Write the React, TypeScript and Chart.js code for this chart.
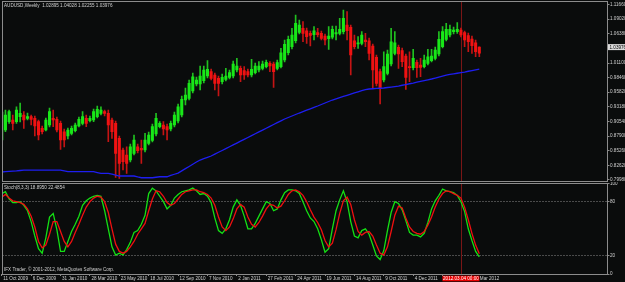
import React, { useEffect, useRef } from "react";
import { Chart, registerables } from "chart.js";
Chart.register(...registerables);

// ---- weekly AUDUSD candles ----
const opens = [
  0.8718, 0.8899, 0.9049, 0.9080, 0.9049, 0.9140, 0.9170, 0.9110, 0.9140, 0.9110,
  0.9049, 0.8929, 0.8899, 0.8989, 0.9110, 0.9092, 0.9020, 0.8868, 0.8790, 0.8839,
  0.8887, 0.8971, 0.9020, 0.9110, 0.9067, 0.9080, 0.9140, 0.9200, 0.9230, 0.9200,
  0.9080, 0.9020, 0.8749, 0.8537, 0.8447, 0.8357, 0.8477, 0.8597, 0.8567, 0.8537,
  0.8658, 0.8712, 0.8826, 0.8959, 0.8989, 0.8959, 0.8917, 0.8989, 0.9061, 0.9170,
  0.9441, 0.9472, 0.9604, 0.9730, 0.9730, 0.9789, 0.9875, 0.9953, 0.9893, 0.9833,
  0.9772, 0.9815, 0.9851, 0.9875, 0.9984, 1.0014, 0.9971, 0.9953, 0.9893, 0.9935,
  0.9984, 1.0014, 1.0044, 1.0104, 1.0092, 1.0014, 1.0044, 1.0165, 1.0296, 1.0405,
  1.0513, 1.0665, 1.0737, 1.0694, 1.0647, 1.0622, 1.0658, 1.0647, 1.0598, 1.0549,
  1.0575, 1.0634, 1.0647, 1.0676, 1.0797, 1.0755, 1.0513, 1.0454, 1.0466, 1.0526,
  1.0513, 1.0417, 1.0213, 0.9953, 0.9803, 0.9924, 1.0092, 1.0285, 1.0394, 1.0333,
  1.0236, 1.0044, 1.0026, 1.0122, 1.0074, 1.0044, 1.0104, 1.0152, 1.0195, 1.0273,
  1.0405, 1.0538, 1.0617, 1.0676, 1.0676, 1.0707, 1.0658, 1.0604, 1.0544, 1.0477,
  1.0398,
];
const highs = [
  0.9260, 0.9261, 0.9260, 0.9170, 0.9320, 0.9387, 0.9230, 0.9206, 0.9170, 0.9152,
  0.9080, 0.8971, 0.9116, 0.9296, 0.9261, 0.9134, 0.9061, 0.8917, 0.8935, 0.8971,
  0.9025, 0.9134, 0.9230, 0.9170, 0.9152, 0.9278, 0.9333, 0.9320, 0.9261, 0.9261,
  0.9116, 0.9061, 0.8790, 0.8573, 0.8597, 0.8645, 0.8809, 0.8645, 0.8718, 0.8839,
  0.8863, 0.9007, 0.9200, 0.9049, 0.9049, 0.9007, 0.9061, 0.9224, 0.9369, 0.9513,
  0.9658, 0.9803, 0.9929, 0.9857, 1.0056, 1.0056, 1.0155, 1.0002, 0.9929, 0.9875,
  0.9911, 1.0014, 0.9984, 1.0146, 1.0195, 1.0056, 1.0044, 1.0002, 1.0177, 1.0110,
  1.0134, 1.0146, 1.0165, 1.0134, 1.0128, 1.0165, 1.0376, 1.0526, 1.0598, 1.0737,
  1.0978, 1.0888, 1.0857, 1.0743, 1.0689, 1.0767, 1.0737, 1.0689, 1.0634, 1.0767,
  1.0779, 1.0779, 1.0918, 1.1068, 1.1038, 1.0797, 1.0617, 1.0586, 1.0676, 1.0647,
  1.0562, 1.0454, 1.0255, 1.0002, 1.0314, 1.0345, 1.0737, 1.0676, 1.0436, 1.0381,
  1.0273, 1.0314, 1.0358, 1.0165, 1.0195, 1.0255, 1.0358, 1.0358, 1.0399, 1.0676,
  1.0767, 1.0828, 1.0797, 1.0761, 1.0839, 1.0743, 1.0689, 1.0652, 1.0598, 1.0526,
  1.0403,
];
const lows = [
  0.8682, 0.8868, 0.9020, 0.8899, 0.9020, 0.9043, 0.8929, 0.9080, 0.8989, 0.8790,
  0.8718, 0.8827, 0.8881, 0.8953, 0.8959, 0.8863, 0.8550, 0.8591, 0.8736, 0.8809,
  0.8863, 0.8953, 0.8989, 0.8959, 0.9043, 0.9049, 0.9116, 0.9170, 0.9152, 0.8687,
  0.8749, 0.8043, 0.8025, 0.8176, 0.8116, 0.8320, 0.8447, 0.8483, 0.8297, 0.8501,
  0.8628, 0.8682, 0.8790, 0.8935, 0.8809, 0.8718, 0.8881, 0.8953, 0.9025, 0.9134,
  0.9351, 0.9441, 0.9568, 0.9694, 0.9622, 0.9749, 0.9839, 0.9803, 0.9622, 0.9513,
  0.9730, 0.9785, 0.9821, 0.9839, 0.9947, 0.9772, 0.9815, 0.9857, 0.9857, 0.9911,
  0.9947, 0.9984, 1.0020, 0.9953, 0.9670, 0.9984, 1.0020, 1.0128, 1.0255, 1.0363,
  1.0472, 1.0634, 1.0495, 1.0466, 1.0417, 1.0526, 1.0580, 1.0526, 1.0436, 1.0358,
  1.0544, 1.0526, 1.0617, 1.0634, 1.0526, 0.9893, 1.0363, 1.0376, 1.0436, 1.0405,
  1.0165, 0.9652, 0.9694, 0.9369, 0.9767, 0.9893, 1.0056, 1.0255, 1.0014, 1.0044,
  0.9634, 0.9772, 0.9984, 0.9851, 0.9863, 1.0020, 1.0074, 1.0128, 1.0165, 1.0237,
  1.0381, 1.0508, 1.0580, 1.0634, 1.0647, 1.0580, 1.0405, 1.0314, 1.0285, 1.0224,
  1.0226,
];
const closes = [
  0.9224, 0.9170, 0.9230, 0.9020, 0.9261, 0.9200, 0.9080, 0.9140, 0.9092, 0.8971,
  0.8809, 0.8868, 0.9080, 0.9230, 0.9080, 0.8899, 0.8718, 0.8718, 0.8899, 0.8929,
  0.8989, 0.9092, 0.9140, 0.9020, 0.9110, 0.9230, 0.9273, 0.9261, 0.9200, 0.8989,
  0.8868, 0.8477, 0.8297, 0.8326, 0.8297, 0.8597, 0.8718, 0.8525, 0.8537, 0.8718,
  0.8809, 0.8959, 0.9110, 0.9020, 0.8917, 0.8899, 0.9020, 0.9170, 0.9320, 0.9454,
  0.9532, 0.9743, 0.9862, 0.9803, 0.9875, 0.9984, 0.9996, 0.9833, 0.9743, 0.9743,
  0.9851, 0.9875, 0.9935, 1.0092, 1.0056, 0.9893, 0.9893, 0.9893, 0.9996, 1.0056,
  1.0056, 1.0092, 1.0122, 1.0056, 0.9953, 1.0116, 1.0296, 1.0448, 1.0538, 1.0617,
  1.0828, 1.0797, 1.0647, 1.0586, 1.0611, 1.0694, 1.0622, 1.0556, 1.0526, 1.0598,
  1.0719, 1.0658, 1.0719, 1.0918, 1.0694, 1.0255, 1.0405, 1.0477, 1.0617, 1.0495,
  1.0285, 0.9984, 0.9743, 0.9652, 1.0044, 1.0273, 1.0495, 1.0477, 1.0273, 1.0134,
  0.9851, 1.0026, 1.0195, 1.0026, 1.0032, 1.0165, 1.0224, 1.0236, 1.0345, 1.0538,
  1.0676, 1.0719, 1.0719, 1.0707, 1.0719, 1.0617, 1.0526, 1.0495, 1.0423, 1.0314,
  1.0290,
];
// ---- blue moving average ----
const maValues = [
  0.8139, 0.8145, 0.8150, 0.8155, 0.8160, 0.8167, 0.8175, 0.8175, 0.8175, 0.8175,
  0.8175, 0.8175, 0.8175, 0.8175, 0.8175, 0.8175, 0.8175, 0.8160, 0.8145, 0.8145,
  0.8145, 0.8145, 0.8145, 0.8145, 0.8145, 0.8145, 0.8130, 0.8116, 0.8116, 0.8116,
  0.8100, 0.8083, 0.8067, 0.8067, 0.8067, 0.8067, 0.8067, 0.8050, 0.8036, 0.8036,
  0.8036, 0.8036, 0.8045, 0.8054, 0.8054, 0.8054, 0.8077, 0.8099, 0.8121, 0.8160,
  0.8200, 0.8240, 0.8280, 0.8320, 0.8356, 0.8380, 0.8405, 0.8429, 0.8462, 0.8496,
  0.8529, 0.8563, 0.8596, 0.8630, 0.8663, 0.8697, 0.8730, 0.8764, 0.8797, 0.8831,
  0.8864, 0.8898, 0.8931, 0.8965, 0.8998, 0.9032, 0.9065, 0.9098, 0.9125, 0.9152,
  0.9179, 0.9206, 0.9231, 0.9257, 0.9282, 0.9308, 0.9333, 0.9360, 0.9387, 0.9414,
  0.9441, 0.9463, 0.9484, 0.9506, 0.9527, 0.9549, 0.9569, 0.9590, 0.9610, 0.9630,
  0.9640, 0.9645, 0.9650, 0.9654, 0.9658, 0.9667, 0.9676, 0.9685, 0.9694, 0.9708,
  0.9721, 0.9735, 0.9748, 0.9763, 0.9777, 0.9792, 0.9806, 0.9821, 0.9839, 0.9857,
  0.9875, 0.9893, 0.9904, 0.9915, 0.9925, 0.9936, 0.9947, 0.9961, 0.9974, 0.9988,
  1.0001,
];
// ---- Stochastic (8,3,3) ----
const stochMain = [
  89, 91, 83, 79, 79, 80, 76, 70, 58, 42, 28, 23, 40, 63, 67, 49, 25, 25, 36, 47,
  55, 64, 76, 81, 84, 86, 87, 86, 70, 50, 30, 21, 23, 21, 27, 35, 46, 48, 55, 65,
  89, 95, 92, 86, 80, 72, 76, 84, 88, 91, 92, 93, 95, 92, 88, 89, 86,
  79, 62, 48, 45, 50, 60, 74, 82, 76, 64, 50, 50, 56, 64, 72, 80, 78, 70, 72, 82,
  90, 93, 93, 92, 89, 80, 70, 62, 58, 50, 38, 24, 28, 50, 70, 82, 92, 80, 58, 42,
  40, 48, 50, 44, 32, 20, 16, 26, 48, 68, 80, 78,
  71, 59, 46, 43, 43, 41, 45, 57, 72, 81, 87, 94, 92, 91, 90, 87, 80, 69, 50, 37,
  25, 18.895,
];
const stochSignal = [
  85, 88, 84, 81, 80, 79, 77, 72, 64, 52, 36, 29, 32, 44, 58, 58, 47, 36, 30, 36,
  46, 55, 65, 74, 80, 84, 86, 85, 80, 68, 50, 33, 25, 23, 25, 30, 36, 44, 50, 56,
  70, 83, 92, 91, 86, 79, 76, 78, 83, 88, 91, 92, 93, 93, 91, 90, 88,
  84, 76, 63, 52, 48, 52, 61, 72, 77, 74, 63, 55, 52, 57, 64, 72, 77, 76, 73, 75,
  81, 88, 92, 93, 91, 87, 80, 71, 63, 57, 49, 37, 30, 34, 49, 67, 81, 85, 77, 60,
  47, 43, 46, 47, 42, 32, 23, 21, 30, 47, 65, 75,
  73, 62, 52, 47, 45, 44, 47, 54, 63, 74, 83, 89, 92, 91, 89, 87, 84, 74, 60, 45,
  32, 22.4854,
];
// ---- axis labels ----
const priceTicks = [1.1166, 1.0902, 1.0638, 1.011, 0.9846, 0.9582, 0.9318, 0.9054, 0.879, 0.8526, 0.8262, 0.7998];
const stochLevels = [0, 20, 80, 100];
const dottedLevels = [20, 80];
const timeLabels = [
  "11 Oct 2009", "6 Dec 2009", "31 Jan 2010", "28 Mar 2010", "23 May 2010", "18 Jul 2010",
  "12 Sep 2010", "7 Nov 2010", "2 Jan 2011", "27 Feb 2011", "24 Apr 2011", "19 Jun 2011",
  "14 Aug 2011", "9 Oct 2011", "4 Dec 2011", "29 Jan 2012", "25 Mar 2012",
];
const timeLabelStep = 8;
const headerText = "AUDUSD,Weekly  1.02895 1.04028 1.02255 1.03976";
const currentPrice = 1.03976;
const stochTitle = "Stoch(8,3,3) 18.8950 22.4854";
const copyrightText = "IFX Trader, \u00A9 2001-2012, MetaQuotes Software Corp.";
const crossBar = 125;
const crossLabel = "2012.03.04 00:00";

const X_MIN = 0.2;
const X_MAX = 164.9;
const Y_MIN = 0.7968;
const Y_MAX = 1.1213;

const BG = "#0a0c0c";
const FRAME = "#8c8c8c";
const TXT = "#d0d0d0";
const FONT = "'Liberation Sans', Arial, sans-serif";
const FS = 4.6;
const BULL = "#18e818";
const BEAR = "#f01212";
const BULL_WICK = "#20c020";
const BEAR_WICK = "#c41414";

function isBull(i: number) {
  return closes[i] >= opens[i];
}

export default function App() {
  const mainRef = useRef<HTMLCanvasElement>(null);
  const subRef = useRef<HTMLCanvasElement>(null);

  useEffect(() => {
    const idx = opens.map((_, i) => i);

    const drawCross = (chart: any) => {
      const ctx = chart.ctx;
      const xs = chart.scales.x;
      const cx = Math.round(xs.getPixelForValue(crossBar)) + 0.5;
      ctx.save();
      ctx.strokeStyle = "#7a1616";
      ctx.lineWidth = 1;
      ctx.beginPath();
      ctx.moveTo(cx, chart.chartArea.top);
      ctx.lineTo(cx, chart.chartArea.bottom);
      ctx.stroke();
      ctx.restore();
    };

    const mainPlugin = {
      id: "mainDeco",
      beforeDatasetsDraw(chart: any) {
        drawCross(chart);
      },
      afterDraw(chart: any) {
        const ctx = chart.ctx;
        const a = chart.chartArea;
        const ys = chart.scales.y;
        ctx.save();
        ctx.strokeStyle = FRAME;
        ctx.lineWidth = 1;
        ctx.strokeRect(2.5, 1.5, a.right - 2.5, a.bottom - 1.5);
        ctx.font = `${FS}px ${FONT}`;
        ctx.fillStyle = TXT;
        ctx.textBaseline = "middle";
        ctx.textAlign = "left";
        ctx.fillText(headerText, 4, 5.5);
        const py = ys.getPixelForValue(currentPrice);
        ctx.fillStyle = "#dcdcdc";
        ctx.fillRect(a.right + 0.5, py - 3, 17, 6);
        ctx.fillStyle = "#000000";
        ctx.fillText(currentPrice.toFixed(5), a.right + 2, py + 0.2);
        ctx.restore();
      },
    };

    const subPlugin = {
      id: "subDeco",
      beforeDatasetsDraw(chart: any) {
        drawCross(chart);
      },
      afterDraw(chart: any) {
        const ctx = chart.ctx;
        const a = chart.chartArea;
        const xs = chart.scales.x;
        ctx.save();
        ctx.strokeStyle = FRAME;
        ctx.lineWidth = 1;
        ctx.strokeRect(2.5, 1.5, a.right - 2.5, a.bottom + 0.5 - 1.5);
        ctx.font = `${FS}px ${FONT}`;
        ctx.fillStyle = TXT;
        ctx.textBaseline = "middle";
        ctx.textAlign = "left";
        ctx.fillText(stochTitle, 4, 5.5);
        ctx.fillText(copyrightText, 4, 88);
        const cx = xs.getPixelForValue(crossBar);
        ctx.fillStyle = "#e80000";
        ctx.fillRect(cx - 18.5, a.bottom + 1.7, 37, 5.6);
        ctx.fillStyle = "#ffffff";
        ctx.textAlign = "center";
        ctx.fillText(crossLabel, cx, a.bottom + 4.6);
        ctx.restore();
      },
    };

    const main = new Chart(mainRef.current as HTMLCanvasElement, {
      type: "bar",
      data: {
        datasets: [
          {
            type: "bar",
            data: idx.map((i) => ({ x: i, y: [lows[i], highs[i]] })) as any,
            backgroundColor: (c: any) => (isBull(c.dataIndex) ? BULL_WICK : BEAR_WICK),
            barThickness: 1,
            grouped: false,
            borderWidth: 0,
            order: 3,
          } as any,
          {
            type: "bar",
            data: idx.map((i) => ({ x: i, y: [opens[i], closes[i]] })) as any,
            backgroundColor: (c: any) => (isBull(c.dataIndex) ? BULL : BEAR),
            barThickness: 2.4,
            grouped: false,
            borderWidth: 0,
            minBarLength: 1,
            order: 2,
          } as any,
          {
            type: "line",
            data: idx.map((i) => ({ x: i, y: maValues[i] })) as any,
            borderColor: "#1e1ef0",
            borderWidth: 1.3,
            pointRadius: 0,
            tension: 0,
            order: 1,
          } as any,
        ],
      },
      options: {
        animation: false,
        responsive: false,
        maintainAspectRatio: false,
        devicePixelRatio: 1,
        events: [],
        layout: { padding: { left: 2.5, top: 2, right: 0, bottom: 0.5 } },
        plugins: { legend: { display: false }, tooltip: { enabled: false } },
        scales: {
          x: { type: "linear", min: X_MIN, max: X_MAX, display: false, offset: false },
          y: {
            type: "linear",
            position: "right",
            min: Y_MIN,
            max: Y_MAX,
            afterBuildTicks: (s: any) => {
              s.ticks = priceTicks.map((v) => ({ value: v }));
            },
            afterFit: (s: any) => {
              s.width = 17.5;
              s.paddingTop = 0;
              s.paddingBottom = 0;
            },
            border: { display: false },
            grid: { drawOnChartArea: false, drawTicks: true, tickLength: 2, tickColor: FRAME, color: FRAME },
            ticks: {
              color: TXT,
              font: { family: FONT, size: FS },
              padding: 0.5,
              autoSkip: false,
              maxRotation: 0,
              callback: (v: any) => Number(v).toFixed(5),
            },
          },
        },
      } as any,
      plugins: [mainPlugin],
    });

    const sub = new Chart(subRef.current as HTMLCanvasElement, {
      type: "line",
      data: {
        datasets: [
          {
            data: idx.map((i) => ({ x: i, y: stochMain[i] })) as any,
            borderColor: "#14e014",
            borderWidth: 1.3,
            pointRadius: 0,
            tension: 0,
            order: 2,
          },
          {
            data: idx.map((i) => ({ x: i, y: stochSignal[i] })) as any,
            borderColor: "#f01010",
            borderWidth: 1.3,
            pointRadius: 0,
            tension: 0,
            order: 1,
          },
        ],
      },
      options: {
        animation: false,
        responsive: false,
        maintainAspectRatio: false,
        devicePixelRatio: 1,
        events: [],
        layout: { padding: { left: 2.5, top: 1.6, right: 0, bottom: 0 } },
        plugins: { legend: { display: false }, tooltip: { enabled: false } },
        scales: {
          x: {
            type: "linear",
            min: X_MIN,
            max: X_MAX,
            offset: false,
            afterBuildTicks: (s: any) => {
              s.ticks = timeLabels.map((_, k) => ({ value: k * timeLabelStep }));
            },
            afterFit: (s: any) => {
              s.height = 8;
              s.paddingLeft = 0;
              s.paddingRight = 0;
            },
            border: { display: false },
            grid: { drawOnChartArea: false, drawTicks: true, tickLength: 2, tickColor: FRAME, color: FRAME },
            ticks: {
              color: TXT,
              font: { family: FONT, size: FS },
              padding: 0.3,
              align: "start",
              labelOffset: 1.5,
              autoSkip: false,
              maxRotation: 0,
              minRotation: 0,
              callback: (_v: any, i: number) => timeLabels[i],
            },
          },
          y: {
            type: "linear",
            position: "right",
            min: 0,
            max: 100,
            afterBuildTicks: (s: any) => {
              s.ticks = stochLevels.map((v) => ({ value: v }));
            },
            afterFit: (s: any) => {
              s.width = 17.5;
              s.paddingTop = 0;
              s.paddingBottom = 0;
            },
            border: { display: false, dash: [1, 2] },
            grid: {
              drawOnChartArea: true,
              drawTicks: true,
              tickLength: 2,
              tickColor: FRAME,
              color: (c: any) => (c.tick && dottedLevels.includes(c.tick.value) ? "#8a8a8a" : "rgba(0,0,0,0)"),
              tickBorderDash: [],
            },
            ticks: {
              color: TXT,
              font: { family: FONT, size: FS },
              padding: 0.5,
              autoSkip: false,
              callback: (v: any) => String(v),
            },
          },
        },
      } as any,
      plugins: [subPlugin],
    });

    return () => {
      main.destroy();
      sub.destroy();
    };
  }, []);

  return (
    <div style={{ position: "fixed", left: 0, top: 0, width: 625, height: 282, background: BG, overflow: "hidden" }}>
      <canvas ref={mainRef} width={625} height={182} style={{ position: "absolute", left: 0, top: 0, width: 625, height: 182 }} />
      <canvas ref={subRef} width={625} height={100} style={{ position: "absolute", left: 0, top: 182, width: 625, height: 100 }} />
    </div>
  );
}
